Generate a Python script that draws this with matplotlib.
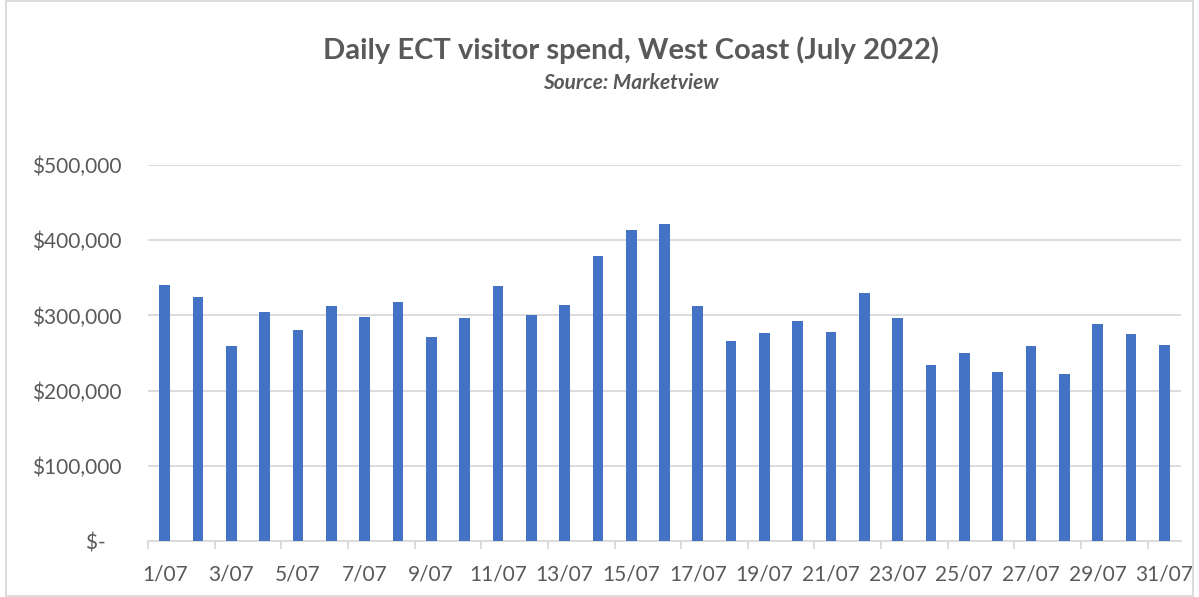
import matplotlib
matplotlib.use("Agg")
import matplotlib.pyplot as plt
from matplotlib.ticker import FuncFormatter, FixedLocator
from matplotlib.patches import Rectangle
import numpy as np

# -------------------------------------------------------
# data
# -------------------------------------------------------
days = [f"{d}/07" for d in range(1, 32)]
spend = [340000, 324000, 259000, 304000, 281000, 312000, 298000, 318000,
         271000, 297000, 339000, 300000, 314000, 379000, 414000, 422000,
         313000, 266000, 277000, 292000, 278000, 330000, 296000, 234000,
         250000, 225000, 259000, 222000, 289000, 275000, 260000]
y_ticks = [0, 100000, 200000, 300000, 400000, 500000]

TXT = "#595959"
GRID = "#d9d9d9"
BAR = "#4472C4"

plt.rcParams["font.family"] = ["Lato", "DejaVu Sans"]

fig = plt.figure(figsize=(11.99, 5.97), dpi=100)
ax = fig.add_axes([148 / 1199, 1 - 541 / 597, (1181 - 148) / 1199, (541 - 165) / 597])

x = np.arange(len(days))
ax.bar(x, spend, width=0.32, color=BAR, zorder=3)

ax.set_xlim(-0.5, len(days) - 0.5)
ax.set_ylim(0, 500000)

# y axis
ax.yaxis.set_major_locator(FixedLocator(y_ticks))
ax.yaxis.set_major_formatter(FuncFormatter(lambda v, p: "$-   " if v == 0 else f"${v:,.0f}"))
ax.grid(axis="y", color=GRID, linewidth=1.3, zorder=0)
ax.tick_params(axis="y", length=0, pad=19, labelsize=15, labelcolor=TXT)

# x axis: ticks between every 2nd category, labels on odd days
ax.set_xticks(x[::2])
ax.set_xticklabels(days[::2])
ax.set_xticks(np.arange(-0.5, len(days), 2), minor=True)
ax.tick_params(axis="x", which="major", length=0, pad=17, labelsize=15, labelcolor=TXT)
ax.tick_params(axis="x", which="minor", length=6, width=1.3, color=GRID)

for s in ["top", "right", "left"]:
    ax.spines[s].set_visible(False)
ax.spines["bottom"].set_color(GRID)
ax.spines["bottom"].set_linewidth(1.3)

# titles
fig.text(631 / 1199, 1 - 50 / 597, "Daily ECT visitor spend, West Coast (July 2022)",
         ha="center", va="center", fontsize=21, fontweight="bold", color=TXT)
fig.text(631 / 1199, 1 - 83 / 597, "Source: Marketview",
         ha="center", va="center", fontsize=15, fontweight="bold", style="italic", color=TXT)

# chart border
fig.patches.append(Rectangle((6 / 1199, 0.002), 1 - 12 / 1199, 0.996, transform=fig.transFigure,
                             fill=False, edgecolor=GRID, linewidth=1.3))

fig.savefig("out.png", dpi=100)
